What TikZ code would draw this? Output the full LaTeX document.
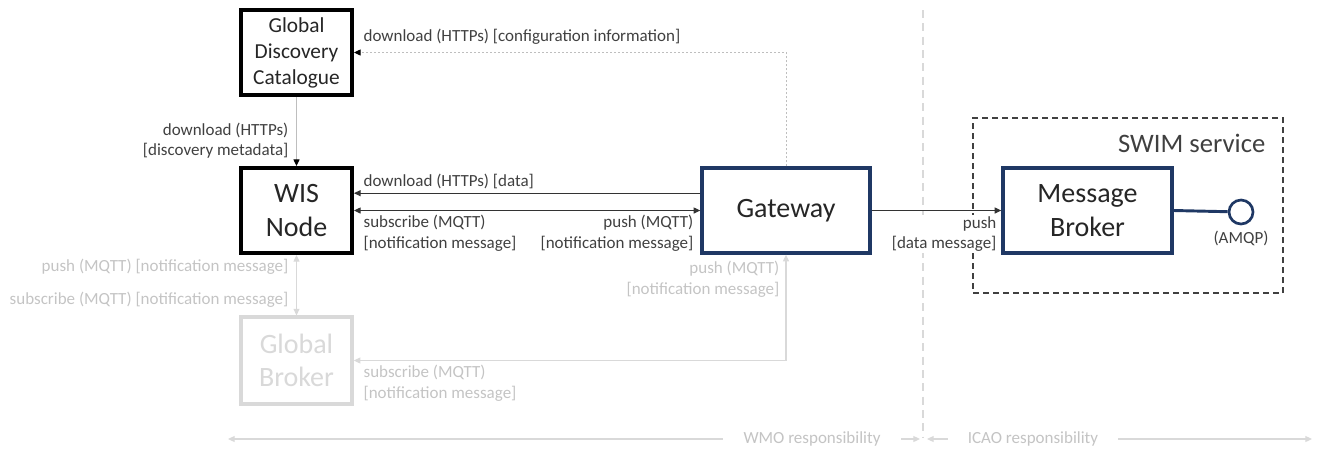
\documentclass[tikz,border=0pt]{standalone}
\usepackage{fontspec}
\setmainfont{Carlito}
\usetikzlibrary{arrows.meta,positioning}
\definecolor{navy}{RGB}{31,56,100}
\definecolor{labelgrey}{RGB}{64,64,64}
\definecolor{fadegrey}{RGB}{217,217,217}
\definecolor{fadetext}{RGB}{196,196,196}
\definecolor{linegrey}{RGB}{190,190,190}
\newcommand{\lblfont}{\fontsize{12.75}{15.5}\selectfont}
\newcommand{\catfont}{\fontsize{16}{19.5}\selectfont}
\newcommand{\boxfont}{\fontsize{21}{25}\selectfont}
\newcommand{\swimfont}{\fontsize{20}{24}\selectfont}

\begin{document}
\begin{tikzpicture}[x=0.75pt, y=-0.75pt,
    box/.style={rectangle, draw=black, line width=2.9pt, fill=white, align=center, minimum width=83.25pt, minimum height=63.75pt, inner sep=0pt, text=black!85},
    bluebox/.style={box, draw=navy, line width=2.5pt, minimum width=126pt, font=\boxfont},
    fadebox/.style={box, draw=fadegrey, text=fadegrey, line width=2.6pt, minimum height=65pt, font=\boxfont},
    port/.style={circle, draw=navy, line width=2pt, fill=white, minimum size=18pt, inner sep=0pt},
    swim/.style={rectangle, draw=labelgrey, line width=1.4pt, dash pattern=on 4.5pt off 3pt, minimum width=232.5pt, minimum height=131.25pt},
    lbl/.style={font=\lblfont, text=labelgrey, inner sep=1pt},
    fadelbl/.style={lbl, text=fadetext},
    arrow/.style={->, >={Triangle[length=5pt,width=4.5pt]}, line width=0.8pt, black!80},
    greyarrow/.style={-{Triangle[length=5pt,width=4.5pt,color=black]}, line width=0.8pt, linegrey},
    cfgline/.style={-{Triangle[length=5pt,width=4.5pt,color=black]}, line width=0.75pt, linegrey, dash pattern=on 1.5pt off 1.5pt},
    fadearrow/.style={<->, >={Triangle[length=5pt,width=4.5pt]}, line width=0.8pt, fadegrey},
    split/.style={fadegrey, line width=2.2pt, dash pattern=on 6pt off 4pt},
    resp/.style={<->, >={Triangle[length=5pt,width=4.5pt]}, line width=0.8pt, fadegrey},
    resplbl/.style={font=\lblfont, text=fadetext, fill=white, inner sep=1pt, minimum height=18pt}
    ]
    \useasboundingbox (0,0) rectangle (1317,455);

    % WMO / ICAO border
    \coordinate (splittop) at (923,10);
    \coordinate (splitbot) at (923,437);
    \draw[split] (splittop) -- (splitbot);

    % SWIM service container
    \node[swim] (swim) at (1128,205.5) {};
    \node[font=\swimfont, text=labelgrey, anchor=east] (swimlbl) at (1270,143) {SWIM service};

    \node[box, font=\catfont] (gdc) at (296.5,52.5) {Global\\Discovery\\Catalogue};
    \node[box, font=\boxfont] (wis) at (296.5,210.5) {WIS\\Node};
    \node[bluebox] (gateway) at (786,210.5) {Gateway};
    \node[bluebox, minimum width=126.75pt] (broker) at (1087.5,210.5) {Message\\Broker};
    \node[fadebox] (gbroker) at (296.5,360.5) {Global\\Broker};
    \node[port] (amqp) at (1241,212) {};
    \node[lbl, below=3pt of amqp] (amqplbl) {(AMQP)};

    % configuration and metadata
    \draw[cfgline] (gateway.north) |- (gdc.east);
    \node[lbl, anchor=west] (cfglbl) at (362,37) {download (HTTPs) [configuration information]};
    \draw[greyarrow] (gdc.south) -- (wis.north);
    \node[lbl, anchor=east, align=right] (metalbl) at (290,140.5) {download (HTTPs)\\{}[discovery metadata]};

    % gateway <-> WIS node
    \draw[arrow] ([yshift=13pt]gateway.west) -- ([yshift=13pt]wis.east);
    \node[lbl, anchor=west] (datalbl) at (362,181) {download (HTTPs) [data]};
    \draw[arrow, <->] (wis.east) -- (gateway.west);
    \node[lbl, anchor=west, align=left] (sublbl) at (362,233) {subscribe (MQTT)\\{}[notification message]};
    \node[lbl, anchor=east, align=right] (pushlbl) at (695,233) {push (MQTT)\\{}[notification message]};

    % gateway -> message broker
    \node[lbl, anchor=east, align=right, fill=white] (msglbl) at (998,234) {push\\{}[data message]};
    \draw[arrow] (gateway.east) -- (broker.west);
    \draw[navy, line width=2.2pt] (broker.east) -- (amqp);

    % global broker
    \draw[fadearrow] (wis.south) -- (gbroker.north);
    \node[fadelbl, anchor=east] (gbpush) at (290,267) {push (MQTT) [notification message]};
    \node[fadelbl, anchor=east] (gbsub) at (290,300) {subscribe (MQTT) [notification message]};
    \draw[fadearrow] (gateway.south) |- (gbroker.east);
    \node[fadelbl, anchor=east, align=right] (gwpush) at (781,279.5) {push (MQTT)\\{}[notification message]};
    \node[fadelbl, anchor=west, align=left] (gwsub) at (362,383) {subscribe (MQTT)\\{}[notification message]};

    % responsibilities
    \coordinate (wmoL) at (228,439);
    \coordinate (wmoR) at (920,439);
    \coordinate (icaoL) at (927,439);
    \coordinate (icaoR) at (1312,439);
    \draw[resp] (wmoL) -- (wmoR);
    \draw[resp] (icaoL) -- (icaoR);
    \node[resplbl, minimum width=133pt] (wmolbl) at (812,439) {WMO responsibility};
    \node[resplbl, minimum width=127.5pt] (icaolbl) at (1033,439) {ICAO responsibility};
\end{tikzpicture}
\end{document}
